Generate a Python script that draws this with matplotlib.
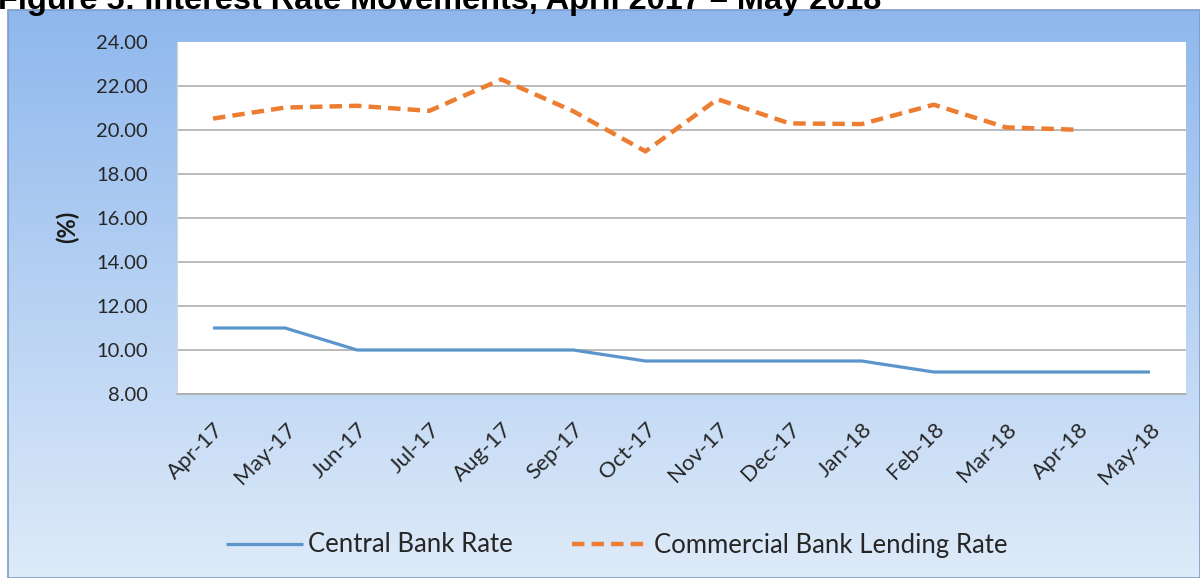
import numpy as np
import matplotlib
matplotlib.use('Agg')
import matplotlib.pyplot as plt
from matplotlib.patches import Rectangle

plt.rcParams['font.family'] = ['Lato', 'DejaVu Sans']

months = ['Apr-17', 'May-17', 'Jun-17', 'Jul-17', 'Aug-17', 'Sep-17', 'Oct-17',
          'Nov-17', 'Dec-17', 'Jan-18', 'Feb-18', 'Mar-18', 'Apr-18', 'May-18']
central_bank = [11.0, 11.0, 10.0, 10.0, 10.0, 10.0, 9.5, 9.5, 9.5, 9.5, 9.0, 9.0, 9.0, 9.0]
lending = [20.52, 21.02, 21.10, 20.87, 22.30, 20.85, 19.03, 21.40, 20.30, 20.27,
           21.15, 20.12, 20.01]
yticks = [8, 10, 12, 14, 16, 18, 20, 22, 24]

W, H = 1200, 578
fig = plt.figure(figsize=(W / 100, H / 100), dpi=100)

# gradient chart background
bg = fig.add_axes([8 / W, 0, 1 - 8 / W, 1 - 10 / H])
top = np.array([0.56, 0.72, 0.93])
bottom = np.array([0.87, 0.92, 0.975])
t = np.linspace(0, 1, 256)[:, None]
grad = top[None, :] * (1 - t) + bottom[None, :] * t
bg.imshow(grad[:, None, :], aspect='auto', extent=[0, 1, 0, 1])
bg.set_axis_off()
fig.patches.append(Rectangle((8 / W, 0), 1 - 8 / W, 1 - 10 / H, transform=fig.transFigure,
                             fill=False, edgecolor='#7d9cc6', linewidth=1.2))

# title is cut at the top edge in the original
fig.text(-2 / W, 1 - 9 / H, 'Figure 5: Interest Rate Movements, April 2017 \u2013 May 2018',
         fontsize=23.4, fontweight='bold', family='Liberation Sans', ha='left', va='baseline',
         color='black')

ax = fig.add_axes([177 / W, 1 - 394 / H, 1009 / W, 352 / H])
ax.set_facecolor('white')
x = np.arange(len(months))
ax.plot(x, central_bank, color='#5b95cc', linewidth=2.3, label='Central Bank Rate',
        solid_capstyle='butt')
ax.plot(x[:len(lending)], lending, color='#ed7d31', linewidth=3.2, dashes=(2.8, 1.6),
        label='Commercial Bank Lending Rate', dash_capstyle='butt')

ax.set_xlim(-0.5, len(months) - 0.5)
ax.set_ylim(8, 24)
ax.set_yticks(yticks)
ax.set_yticklabels(['%.2f' % v for v in yticks])
ax.grid(axis='y', color='#a8a8a8', linewidth=1.1)
ax.set_axisbelow(True)
ax.get_ygridlines()[-1].set_visible(False)
ax.set_xticks(x)
ax.set_xticklabels(months, rotation=45, ha='right', rotation_mode='anchor')
ax.tick_params(axis='y', length=0, pad=21, labelsize=14.5, labelcolor='#262626')
ax.tick_params(axis='x', length=0, pad=18, labelsize=16, labelcolor='#262626')
for s in ['top', 'right']:
    ax.spines[s].set_visible(False)
ax.spines['left'].set_color('#d6d6d6')
ax.spines['bottom'].set_color('#a8a8a8')
ax.spines['bottom'].set_linewidth(1.1)

fig.text(67 / W, 1 - 227 / H, '(%)', rotation=90, fontsize=17, fontweight='bold',
         ha='center', va='center', color='#1a1a1a')

fig.legend(loc='center', bbox_to_anchor=(617 / W, 1 - 545 / H), ncol=2, frameon=False,
           fontsize=18.5, handlelength=3.0, handletextpad=0.2, columnspacing=2.3,
           labelcolor='#262626')

fig.savefig('out.png', dpi=100)
